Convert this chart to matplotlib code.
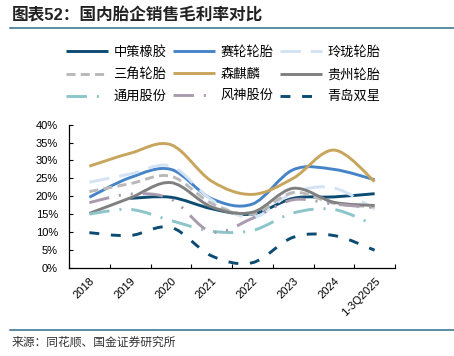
import numpy as np
import matplotlib
matplotlib.use('Agg')
import matplotlib.pyplot as plt
from matplotlib.path import Path
from matplotlib.patches import PathPatch
from matplotlib.lines import Line2D

plt.rcParams['font.family'] = ['Liberation Sans', 'Noto Sans CJK SC']

# gross margin (%)
categories = ['2018', '2019', '2020', '2021', '2022', '2023', '2024', '1-3Q2025']
zhongce = [None, 19.4, 19.7, 16.5, 15.0, 19.4, 19.8, 20.7]
sailun = [19.7, 25.2, 27.5, 19.3, 17.8, 27.4, 27.5, 24.6]
linglong = [23.9, 26.2, 28.4, 19.0, 14.0, 21.0, 22.3, 16.4]
sanjiao = [21.3, 23.5, 25.6, 18.0, 15.0, 21.0, 18.0, 17.0]
senqilin = [28.4, 32.0, 34.4, 24.2, 20.5, 25.0, 32.9, 24.1]
guizhou = [15.2, 19.5, 23.8, 17.0, 15.5, 22.2, 18.3, 17.4]
tongyong = [15.0, 16.3, 13.2, 10.2, 10.4, 15.3, 16.3, 11.9]
fengshen = [18.2, 20.6, 19.2, 10.0, 13.8, 19.0, 17.8, 16.8]
shuangxing = [9.8, 9.0, 11.3, 3.3, 1.4, 8.5, 9.0, 4.9]

series = [
    ('中策橡胶', zhongce, '#0d4c72', None),
    ('赛轮轮胎', sailun, '#4684c8', None),
    ('玲珑轮胎', linglong, '#d3e3f4', (7, 3.4)),
    ('三角轮胎', sanjiao, '#b9b9b9', (3.1, 1.8)),
    ('森麒麟', senqilin, '#c8a55c', None),
    ('贵州轮胎', guizhou, '#808080', None),
    ('通用股份', tongyong, '#8cc5ca', (7, 3.4, 0.7, 3.4)),
    ('风神股份', fengshen, '#a99bad', (7, 3.4, 0.7, 3.4, 0.7, 3.4)),
    ('青岛双星', shuangxing, '#0d4c72', (3.4, 4.0)),
]
LW = 2.1


def smooth_path(xs, ys):
    # excel-like smoothed line: cubic bezier through each point
    pts = np.column_stack([xs, ys]).astype(float)
    n = len(pts)
    verts = [pts[0]]
    codes = [Path.MOVETO]
    for i in range(n - 1):
        p0 = pts[max(i - 1, 0)]
        p1 = pts[i]
        p2 = pts[i + 1]
        p3 = pts[min(i + 2, n - 1)]
        verts += [p1 + (p2 - p0) / 6, p2 - (p3 - p1) / 6, p2]
        codes += [Path.CURVE4] * 3
    return Path(verts, codes)


fig = plt.figure(figsize=(4.54, 3.56), dpi=100)
ax = fig.add_axes([69 / 454, 1 - 267.7 / 356, (395 - 69) / 454, (267.7 - 124.7) / 356])

handles = []
for name, vals, color, dashes in series:
    xs = [i for i, v in enumerate(vals) if v is not None]
    ys = [v / 100 for v in vals if v is not None]
    ls = 'solid' if dashes is None else (0, dashes)
    patch = PathPatch(smooth_path(xs, ys), fill=False, edgecolor=color, lw=LW,
                      linestyle=ls, capstyle='butt', joinstyle='round')
    ax.add_patch(patch)
    h = Line2D([], [], color=color, lw=LW, solid_capstyle='butt', dash_capstyle='butt')
    if dashes is not None:
        h.set_dashes(dashes)
    handles.append((name, h))

ax.set_xlim(-0.5, len(categories) - 0.5)
ax.set_ylim(0, 0.40)
ax.set_yticks(np.arange(0, 0.401, 0.05))
ax.set_yticklabels([f'{int(round(t * 100))}%' for t in np.arange(0, 0.401, 0.05)], fontsize=8)
ax.set_xticks(range(len(categories)))
ax.set_xticklabels(categories, rotation=45, ha='right', va='top', rotation_mode='anchor', fontsize=8)
ax.set_xticks(np.arange(-0.5, len(categories), 1.0), minor=True)
ax.tick_params(axis='x', which='major', length=0, pad=6)
ax.tick_params(axis='x', which='minor', direction='in', length=3, width=0.8)
ax.tick_params(axis='y', direction='in', length=3, width=0.8, pad=8)
for s in ['top', 'right']:
    ax.spines[s].set_visible(False)
for s in ['left', 'bottom']:
    ax.spines[s].set_linewidth(0.9)

# legend: row-wise order 3x3, matplotlib fills by column
order = [0, 3, 6, 1, 4, 7, 2, 5, 8]
fig.legend([handles[i][1] for i in order], [handles[i][0] for i in order],
           ncol=3, loc='upper left', bbox_to_anchor=(66 / 454, 1 - 46 / 356),
           frameon=False, fontsize=9.5, handlelength=3.2, handletextpad=0.4,
           columnspacing=0.5, labelspacing=0.72, borderpad=0, borderaxespad=0)

fig.text(12 / 454, 1 - 15 / 356, '图表52：国内胎企销售毛利率对比', fontsize=12,
         fontweight='bold', ha='left', va='center', color='#222222')
fig.add_artist(Line2D([10 / 454, 1], [1 - 28 / 356] * 2, color='#2f6e8e', lw=1.1))
fig.add_artist(Line2D([10 / 454, 1], [1 - 330 / 356] * 2, color='#2f6e8e', lw=1.1))
fig.text(12 / 454, 1 - 343 / 356, '来源：同花顺、国金证券研究所', fontsize=8.5,
         ha='left', va='center', color='#333333')

fig.savefig('out.png', dpi=100)
